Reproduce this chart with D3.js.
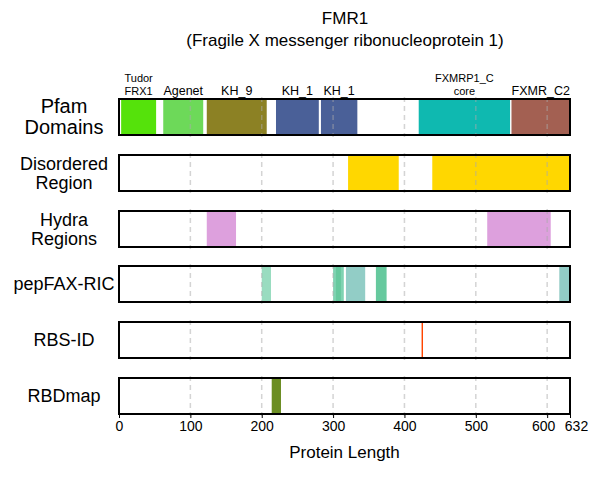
<!DOCTYPE html>
<html><head><meta charset="utf-8">
<script src="https://cdn.jsdelivr.net/npm/d3@7"></script>
<style>body{margin:0;background:#fff}text{font-family:"Liberation Sans",Arial,sans-serif}</style>
</head><body><svg width="600" height="480"></svg>
<script>
const proteinLength = 632;
const tracks = ["Pfam\nDomains", "Disordered\nRegion", "Hydra\nRegions", "pepFAX-RIC", "RBS-ID", "RBDmap"];
const pfam = [
  {start: 3, end: 52, label: "Tudor\nFRX1", color: "#55e20b"},
  {start: 62, end: 118, label: "Agenet", color: "#6dd959"},
  {start: 123, end: 207, label: "KH_9", color: "#8c8124"},
  {start: 220, end: 280, label: "KH_1", color: "#4a6098"},
  {start: 283, end: 334, label: "KH_1", color: "#4a6098"},
  {start: 420, end: 548, label: "FXMRP1_C\ncore", color: "#0fb9b0"},
  {start: 550, end: 632, label: "FXMR_C2", color: "#a36052"}
];
const disordered = [[321, 392], [439, 632]];
const hydra = [[123, 164], [516, 605]];
const pepfax = [
  {start: 200, end: 213, color: "#99dcc0"},
  {start: 300, end: 315, color: "#7fd3b2"},
  {start: 304, end: 311, color: "#66c99e"},
  {start: 318, end: 345, color: "#92cdc6"},
  {start: 360, end: 375, color: "#66c99e"},
  {start: 617, end: 632, color: "#92cbc5"}
];
const rbsid = [425];
const rbdmap = [[214, 227]];
const ticks = [0, 100, 200, 300, 400, 500, 600, 632];

const svg = d3.select("svg");
const x = d3.scaleLinear().domain([0, proteinLength]).range([119, 570]);
const rowTop = [99, 155, 211, 266, 322, 378], rowH = 36;

svg.append("text").attr("x", 345).attr("y", 24).attr("text-anchor", "middle").attr("font-size", 17).text("FMR1");
svg.append("text").attr("x", 345).attr("y", 46).attr("text-anchor", "middle").attr("font-size", 17).text("(Fragile X messenger ribonucleoprotein 1)");

function rect(i, s, e, color) {
  svg.append("rect").attr("x", x(s)).attr("y", rowTop[i]).attr("width", x(e) - x(s)).attr("height", rowH).attr("fill", color);
}
pfam.forEach(d => rect(0, d.start, d.end, d.color));
disordered.forEach(d => rect(1, d[0], d[1], "#ffd700"));
hydra.forEach(d => rect(2, d[0], d[1], "#dda0dd"));
pepfax.forEach(d => rect(3, d.start, d.end, d.color));
rbsid.forEach(d => rect(4, d - 1, d + 1, "#ff4500"));
rbdmap.forEach(d => rect(5, d[0], d[1], "#6b8e23"));

// grid
rowTop.forEach(t => {
  svg.append("g").selectAll("line").data(ticks.slice(1, 7)).enter().append("line")
    .attr("x1", d => x(d)).attr("x2", d => x(d)).attr("y1", t - 2).attr("y2", t + rowH + 2)
    .attr("stroke", "#aaa").attr("stroke-opacity", 0.5).attr("stroke-width", 1.5).attr("stroke-dasharray", "5,4");
  svg.append("rect").attr("x", x(0)).attr("y", t).attr("width", x(proteinLength) - x(0)).attr("height", rowH)
    .attr("fill", "none").attr("stroke", "#000").attr("stroke-width", 2);
});

// track labels
tracks.forEach((name, i) => {
  const lines = name.split("\n");
  const big = i === 0;
  const t = svg.append("text").attr("text-anchor", "middle").attr("font-size", big ? 20 : 18)
    .attr("font-family", "'Liberation Sans Narrow', Arial, sans-serif")
    .attr("x", 64).attr("y", rowTop[i] + rowH / 2 - (lines.length - 1) * (big ? 10 : 9) + 6);
  lines.forEach((l, j) => t.append("tspan").attr("x", 64).attr("dy", j ? (big ? 21 : 19) : 0).text(l));
});

// domain labels
pfam.forEach(d => {
  const lines = d.label.split("\n");
  const t = svg.append("text").attr("text-anchor", "middle").attr("font-size", lines.length > 1 ? 11 : 12.5);
  const cx = (x(d.start) + x(d.end)) / 2;
  lines.forEach((l, j) => t.append("tspan").attr("x", cx).attr("y", 95 - (lines.length - 1 - j) * 13).text(l));
});

const axis = d3.axisBottom(x).tickValues(ticks).tickFormat(d3.format("d")).tickSize(4);
const ag = svg.append("g").attr("transform", `translate(0,${rowTop[5] + rowH})`).call(axis);
ag.select(".domain").remove();
ag.selectAll("text").attr("font-size", 14).attr("fill", "#000").attr("font-family", "Liberation Sans, Arial, sans-serif");
ag.selectAll("text").filter(d => d === 600).attr("dx", -4);
ag.selectAll("text").filter(d => d === 632).attr("dx", 6);
svg.append("text").attr("x", x(proteinLength / 2)).attr("y", 458).attr("text-anchor", "middle").attr("font-size", 17).text("Protein Length");
</script></body></html>
